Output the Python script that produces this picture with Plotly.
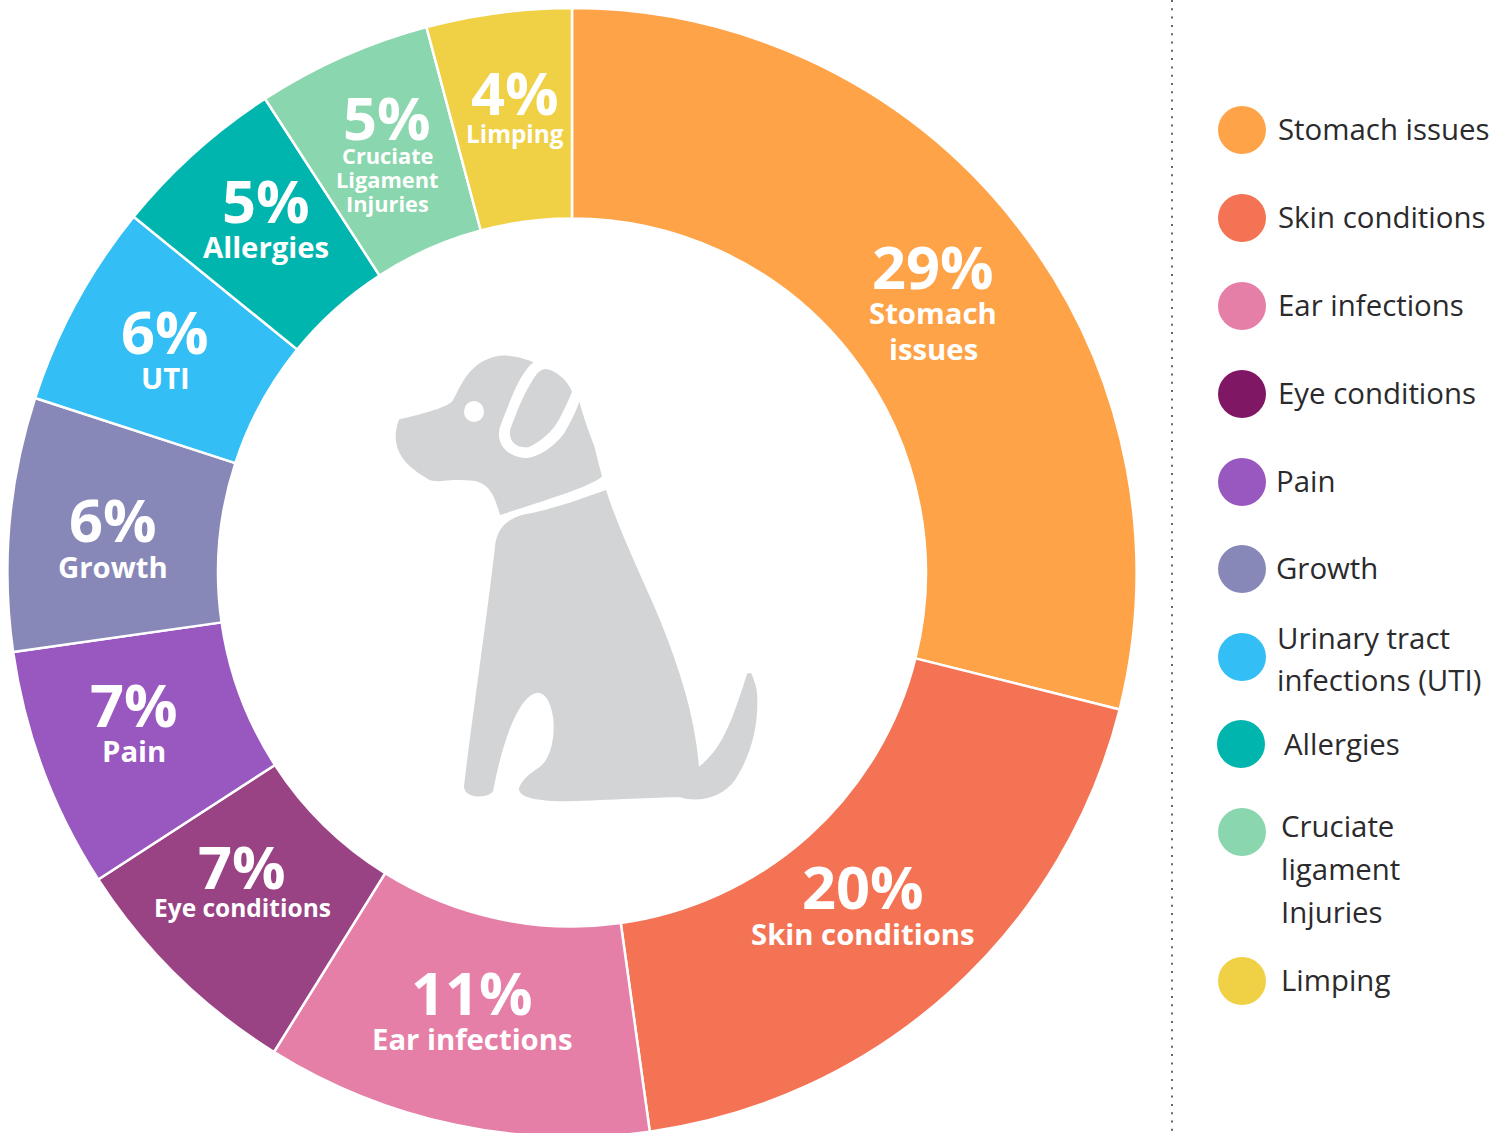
import re
import plotly.graph_objects as go

# ---------- data ----------
categories = ["Stomach issues", "Skin conditions", "Ear infections", "Eye conditions", "Pain",
              "Growth", "Urinary tract infections (UTI)", "Allergies", "Cruciate ligament Injuries", "Limping"]
wedge_values = [28.9, 18.9, 11.05, 7.0, 6.9, 7.25, 5.85, 5.0, 5.0, 4.15]
percent_labels = ["29%", "20%", "11%", "7%", "7%", "6%", "6%", "5%", "5%", "4%"]
wedge_names = [["Stomach", "issues"], ["Skin conditions"], ["Ear infections"], ["Eye conditions"], ["Pain"],
               ["Growth"], ["UTI"], ["Allergies"], ["Cruciate", "Ligament", "Injuries"], ["Limping"]]
legend_lines = [["Stomach issues"], ["Skin conditions"], ["Ear infections"], ["Eye conditions"], ["Pain"],
                ["Growth"], ["Urinary tract", "infections (UTI)"], ["Allergies"],
                ["Cruciate", "ligament", "Injuries"], ["Limping"]]

# ---------- styles and layout ----------
W, H = 1506, 1140   # the page clips the bottom few pixels, as the ring touches the edge in the reference
FONT = "Open Sans"
wedge_colors = ["#FFA348", "#F37354", "#E67FA8", "#994385", "#9858BF",
                "#8888B8", "#33BFF5", "#00B5AE", "#8AD6AE", "#F0D044"]
legend_colors = ["#FFA348", "#F37354", "#E67FA8", "#801765", "#9858BF",
                 "#8888B8", "#33BFF5", "#00B5AE", "#8AD6AE", "#F0D044"]
PIE_X0, PIE_X1, PIE_Y0, PIE_Y1 = 7.5, 1136.5, 8, 1137

pct_pos = [(933, 265.5), (863, 885.5), (472, 991.5), (242, 865.5), (134, 703.5),
           (113, 518.5), (165, 330.5), (266, 199.5), (387, 116.5), (515, 91.5)]
name_y = [[313, 349], [934], [1039], [907.5], [751], [567], [378], [247], [155.5, 179.5, 203.5], [133]]
name_size = [29.3, 29.3, 29.3, 24.5, 29.3, 29.3, 29.3, 29.3, 21.8, 24.3]

dot_x = [1242, 1242, 1242, 1242, 1242, 1242, 1242, 1241, 1242, 1242]
dot_y = [130, 218, 306, 394, 482, 569, 657, 744, 832, 981]
legend_x = [1276, 1276, 1276, 1276, 1274, 1274, 1275, 1282, 1279, 1279]
legend_y = [[128.5], [216.5], [304.5], [392.5], [480.5], [567.5], [637.5, 679.5], [743.5], [825.5, 868.5, 911.5], [979.5]]

DOG_COLOR = "#D3D4D6"
DOG_HEAD = ("M 58 238 C 110 225 200 205 218 182 C 240 145 265 60 360 47 C 400 45 440 58 460 67 "
            "C 420 100 395 170 362 255 C 345 300 370 345 430 354 C 470 358 530 315 555 275 "
            "C 570 250 590 210 598 185 C 610 230 630 285 642 315 L 666 410 C 620 445 480 485 360 525 "
            "C 345 470 330 430 280 422 C 240 418 200 420 180 424 C 160 424 150 422 140 415 "
            "C 90 385 50 350 47 295 C 47 270 52 250 58 238 Z")
DOG_EAR = ("M 495 87 C 530 90 565 125 576 155 C 565 185 540 235 525 258 C 505 285 470 312 445 322 "
           "C 410 325 385 305 390 270 C 410 215 430 165 455 125 C 470 100 482 88 495 87 Z")
DOG_BODY = ("M 678 450 C 720 580 790 720 840 840 C 900 990 945 1130 957 1280 C 1030 1225 1060 1130 1102 1000 "
            "L 1114 1000 C 1122 1020 1130 1040 1131 1060 C 1138 1160 1110 1250 1065 1320 "
            "C 1030 1370 960 1390 900 1372 C 820 1372 700 1380 560 1384 C 480 1384 415 1375 417 1345 "
            "C 425 1320 450 1300 478 1282 C 520 1250 525 1170 519 1130 C 512 1085 495 1057 472 1058 "
            "C 420 1065 370 1190 340 1350 C 335 1375 255 1380 252 1340 C 270 1180 320 840 345 620 "
            "C 350 570 375 535 440 522 C 530 505 620 470 678 450 Z")


def scale_path(p, ox=380, oy=340, k=1 / 3):
    out, is_x = [], True
    for tok in p.split():
        if re.fullmatch(r"[A-Z]", tok):
            out.append(tok)
            is_x = True
        else:
            v = float(tok)
            out.append(f"{ox + v * k:.2f}" if is_x else f"{oy + v * k:.2f}")
            is_x = not is_x
    return " ".join(out)


fig = go.Figure()
fig.add_trace(go.Pie(
    labels=categories, values=wedge_values, sort=False, direction="clockwise", rotation=0,
    hole=0.627, textinfo="none", showlegend=False,
    marker=dict(colors=wedge_colors, line=dict(color="white", width=2.5)),
    domain=dict(x=[PIE_X0 / W, PIE_X1 / W], y=[1 - PIE_Y1 / H, 1 - PIE_Y0 / H]),
))
fig.add_trace(go.Scatter(
    x=dot_x, y=dot_y, mode="markers", showlegend=False, text=categories, hoverinfo="text",
    marker=dict(size=48, color=legend_colors, line=dict(width=0)),
))

ann = []


def text(x, y, s, size, color, bold=False, anchor="center"):
    ann.append(dict(x=x, y=y, xref="x", yref="y", text=f"<b>{s}</b>" if bold else s, showarrow=False,
                    xanchor=anchor, yanchor="middle", align=anchor,
                    font=dict(family=FONT, size=size, color=color)))


for i, pct in enumerate(percent_labels):
    px, py = pct_pos[i]
    text(px, py, pct, 59.5, "white", bold=True)
    for line, ly in zip(wedge_names[i], name_y[i]):
        text(px, ly, line, name_size[i], "white", bold=True)
    for line, ly in zip(legend_lines[i], legend_y[i]):
        text(legend_x[i], ly, line, 29.4, "#2B2A2C", anchor="left")

shapes = [
    dict(type="line", x0=1172, x1=1172, y0=0, y1=H, xref="x", yref="y",
         line=dict(color="#666666", width=2, dash="2px,6.3px")),
    dict(type="path", path=scale_path(DOG_HEAD), xref="x", yref="y", fillcolor=DOG_COLOR, line=dict(width=0)),
    dict(type="path", path=scale_path(DOG_EAR), xref="x", yref="y", fillcolor=DOG_COLOR, line=dict(width=0)),
    dict(type="path", path=scale_path(DOG_BODY), xref="x", yref="y", fillcolor=DOG_COLOR, line=dict(width=0)),
    dict(type="circle", x0=464, x1=484, y0=401, y1=422, xref="x", yref="y", fillcolor="white", line=dict(width=0)),
]

fig.update_layout(
    width=W, height=H, margin=dict(l=0, r=0, t=0, b=0, pad=0),
    paper_bgcolor="white", plot_bgcolor="rgba(0,0,0,0)", showlegend=False,
    xaxis=dict(range=[0, W], visible=False, domain=[0, 1], fixedrange=True),
    yaxis=dict(range=[H, 0], visible=False, domain=[0, 1], fixedrange=True),
    annotations=ann, shapes=shapes, font=dict(family=FONT),
)
fig.write_html("out.html", config=dict(displayModeBar=False),
               post_script="document.body.style.margin='0';document.body.style.overflow='hidden';")
